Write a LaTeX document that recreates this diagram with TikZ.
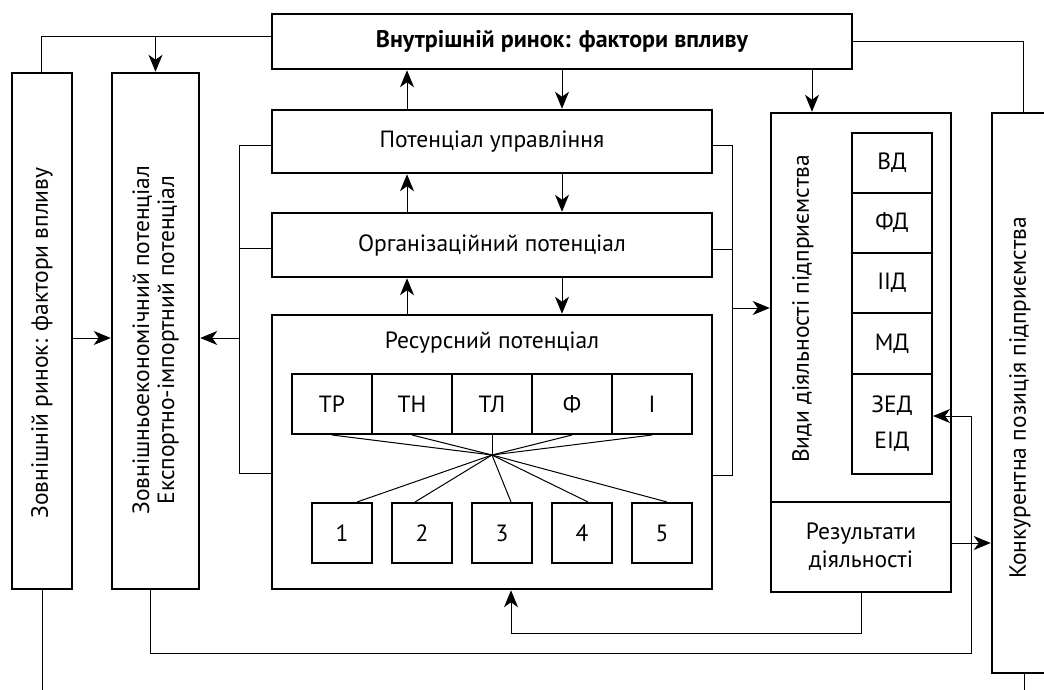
\documentclass[tikz,border=0pt]{standalone}
\usepackage{fontspec}
\setmainfont{PT Sans}
\usetikzlibrary{arrows.meta,calc}
\begin{document}
\begin{tikzpicture}[x=1pt,y=-1pt,
  box/.style={draw, line width=2.5pt, inner sep=0pt, font=\fontsize{23.5}{28}\selectfont},
  cell/.style={draw, line width=2pt, inner sep=0pt, font=\fontsize{23.5}{28}\selectfont},
  conn/.style={line width=1pt},
  arr/.style={conn, -{Stealth[length=17pt,width=14pt,inset=5pt]}},
  txt/.style={inner sep=0pt, font=\fontsize{23.5}{28}\selectfont},
  ]
\clip (0,0) rectangle (1044,690);
% top box
\node[box, minimum width=580, minimum height=55, font=\bfseries\fontsize{24}{28}\selectfont] (T) at (562,41.5) {Внутрішній ринок: фактори впливу};
% left columns
\node[box, minimum width=60, minimum height=516] (Z) at (42,331) {};
\node[txt, rotate=90] (Zt) at (42,343) {Зовнішній ринок: фактори впливу};
\node[box, minimum width=87, minimum height=516] (E) at (155.5,331) {};
\node[txt, rotate=90, align=center, font=\fontsize{23.5}{25}\selectfont] (Et) at (155.5,340) {Зовнішньоекономічний потенціал\\Експортно-імпортний потенціал};
% centre
\node[box, minimum width=440, minimum height=63] (PU) at (492,141.5) {Потенціал управління};
\node[box, minimum width=440, minimum height=64] (OP) at (492,245) {Організаційний потенціал};
\node[box, minimum width=440, minimum height=274] (RP) at (492,452) {};
\node[txt] (RPt) at (492,343) {Ресурсний потенціал};
\foreach \t [count=\i] in {ТР,ТН,ТЛ,Ф,І}
  \node[cell, minimum width=80, minimum height=60] (c\i) at ({252+80*\i},404) {\t};
\foreach \i in {1,...,5}
  \node[cell, minimum width=60, minimum height=60] (s\i) at ({262+80*\i},533) {\i};
\coordinate (hub) at (492,455);
\foreach \i in {1,...,5} \draw[conn] (c\i.south) -- (hub);
\draw[conn] (hub) -- ([xshift=15]s1.north);
\draw[conn] (hub) -- ([xshift=-7]s2.north);
\draw[conn] (hub) -- ([xshift=9]s3.north);
\draw[conn] (hub) -- ([xshift=6]s4.north);
\draw[conn] (hub) -- ([xshift=5]s5.north);
% activity
\node[box, minimum width=180, minimum height=389] (VA) at (861,307.5) {};
\node[txt, rotate=90] (VAt) at (803,309) {Види діяльності підприємства};
\node[box, minimum width=180, minimum height=90, align=center, font=\fontsize{23.5}{28}\selectfont] (RES) at (861,547) {Результати\\діяльності};
\node[cell, minimum width=80, minimum height=60] (VD) at (892,163) {ВД};
\node[cell, minimum width=80, minimum height=60] (FD) at (892,223) {ФД};
\node[cell, minimum width=80, minimum height=60] (ID) at (892,283) {ІІД};
\node[cell, minimum width=80, minimum height=61] (MD) at (892,343.5) {МД};
\node[cell, minimum width=80, minimum height=100, align=center, font=\fontsize{23.5}{36}\selectfont] (ZED) at (892,424) {ЗЕД\\ЕІД};
% competitive position
\node[box, minimum width=57, minimum height=560] (K) at (1020.5,393) {};
\node[txt, rotate=90] (Kt) at (1020,398) {Конкурентна позиція підприємства};
% connectors
\coordinate (tl) at (41.7,37);
\draw[conn] ([yshift=4.5]T.west) -- (tl) -- (tl |- Z.north);
\draw[arr] (E.north |- tl) -- (E.north);
\draw[conn] (T.east) -| ([xshift=2.5]K.north);
\draw[arr] ([xshift=-49]VA.north |- T.south) -- ([xshift=-49]VA.north);
\draw[arr] ([xshift=-85]PU.north) -- ([xshift=-85]PU.north |- T.south);
\draw[arr] ([xshift=70]PU.north |- T.south) -- ([xshift=70]PU.north);
\draw[arr] ([xshift=-85]OP.north) -- ([xshift=-85]PU.south);
\draw[arr] ([xshift=70]PU.south) -- ([xshift=70]OP.north);
\draw[arr] ([xshift=-85]RP.north) -- ([xshift=-85]OP.south);
\draw[arr] ([xshift=70]OP.south) -- ([xshift=70]RP.north);
% left bracket
\coordinate (lb1) at (239,146);
\coordinate (lb2) at (239,473);
\coordinate (lba) at (239,338);
\draw[conn] (lb1 -| PU.west) -- (lb1) -- (lb2) -- (lb2 -| RP.west);
\draw[conn] ([yshift=-3]OP.west) -- ([yshift=-3]OP.west -| lb1);
\draw[arr] (lba) -- (lba -| E.east);
\draw[arr] (lba -| Z.east) -- (lba -| E.west);
% right bracket
\coordinate (rb1) at (732,146);
\coordinate (rb2) at (732,475);
\coordinate (rba) at (732,308);
\draw[conn] (rb1 -| PU.east) -- (rb1) -- (rb2) -- (rb2 -| RP.east);
\draw[conn] ([yshift=-4]OP.east) -- ([yshift=-4]OP.east -| rb1);
\draw[arr] (rba) -- (rba -| VA.west);
% results
\draw[arr] ([yshift=4]RES.east) -- ([yshift=4]RES.east -| K.west);
\coordinate (c1) at (511,633);
\draw[arr] (RES.south) |- (c1) -- (c1 |- RP.south);
\coordinate (c2) at (971,653);
\coordinate (c3) at (971,416);
\draw[arr] ([xshift=-5.5]E.south) |- (c2) -- (c3) -- (c3 -| ZED.east);
\draw[conn] (Z.south) -- ++(0,110);
\draw[conn] ([xshift=3.5]K.south) -- ++(0,20);
\end{tikzpicture}
\end{document}
